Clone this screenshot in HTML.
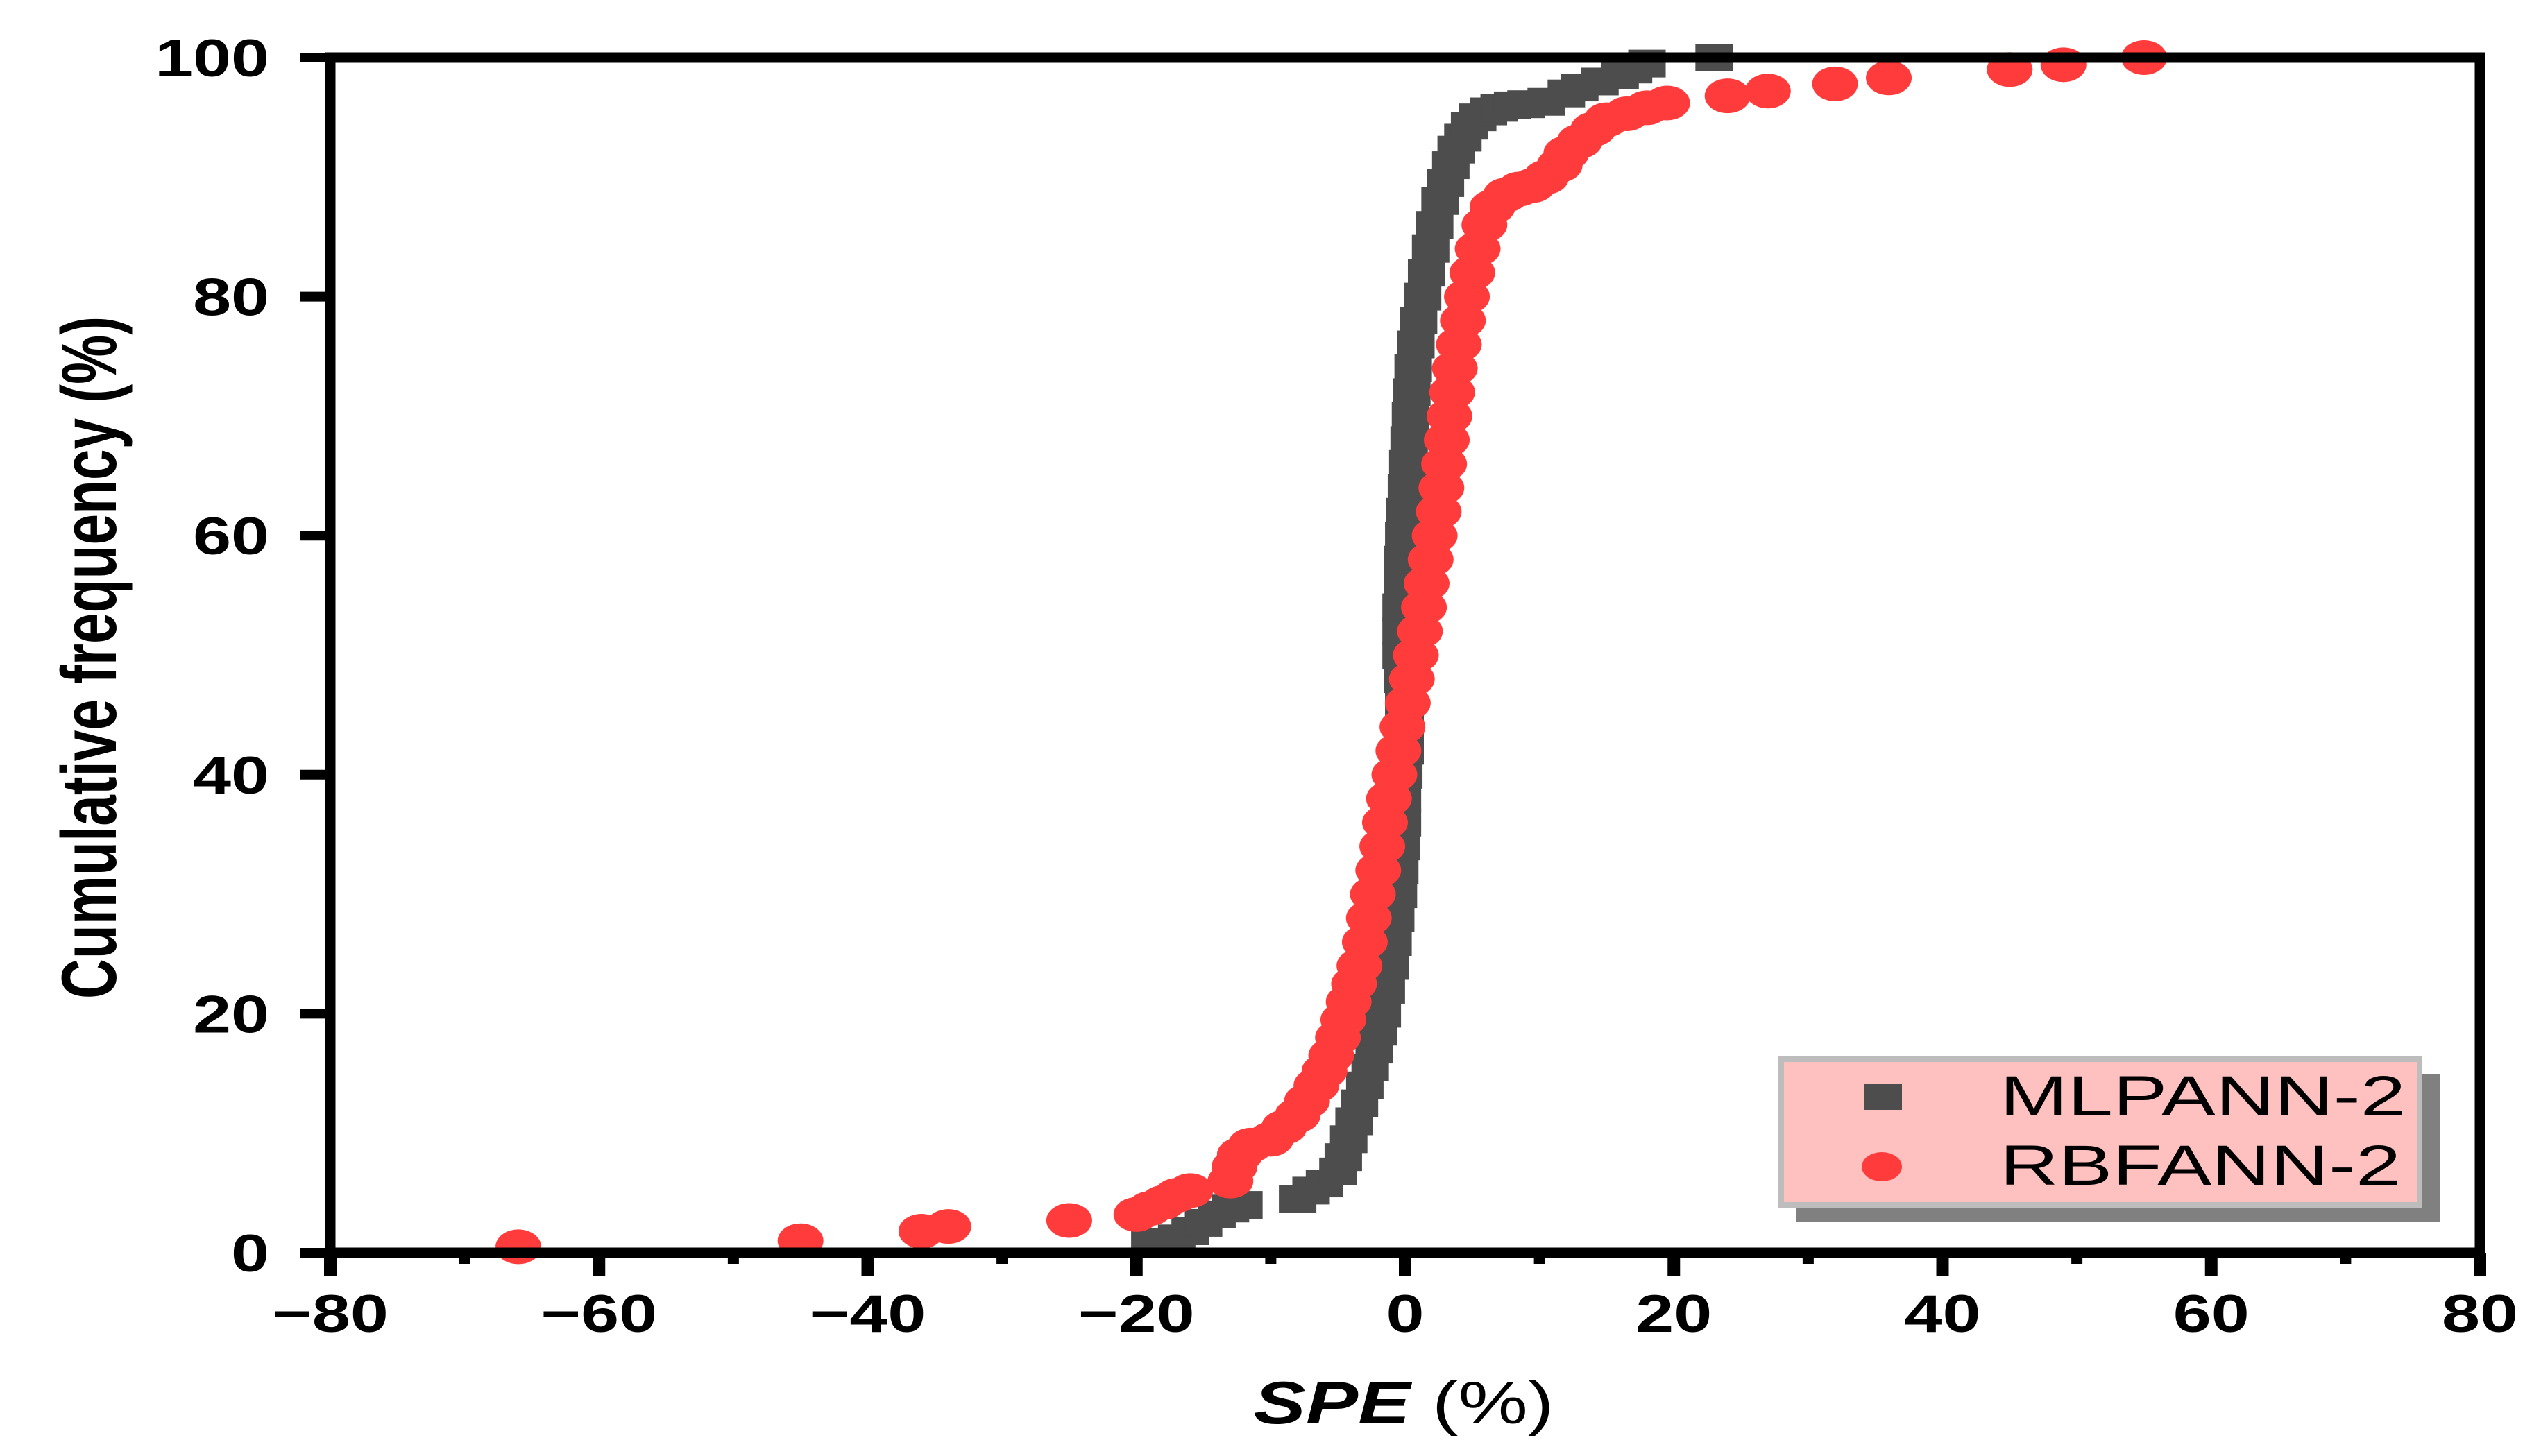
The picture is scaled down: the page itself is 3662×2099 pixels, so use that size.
<!DOCTYPE html>
<html><head><meta charset="utf-8"><style>
html,body{margin:0;padding:0;background:#fff;}
svg{display:block;}
</style></head><body>
<svg id="chart" xmlns="http://www.w3.org/2000/svg" width="3662" height="2099" viewBox="0 0 3662 2099">
<rect x="0" y="0" width="3662" height="2099" fill="#fff"/>
<g id="marks"></g>
<g id="axes"></g>
<text transform="translate(167,948) rotate(-90)" text-anchor="middle" font-family="'Liberation Sans', sans-serif" font-weight="bold" font-size="112" textLength="984" lengthAdjust="spacingAndGlyphs">Cumulative frequency (%)</text>
<text x="2023" y="2052" text-anchor="middle" font-family="'Liberation Sans', sans-serif" font-size="86" textLength="433" lengthAdjust="spacingAndGlyphs"><tspan font-weight="bold" font-style="italic">SPE</tspan> (%)</text>
<g>
  <rect x="2588" y="1548" width="928" height="214" fill="#808080"/>
  <rect x="2567" y="1527" width="920" height="210" fill="#ffc0c0" stroke="#bdbdbd" stroke-width="8"/>
  <rect x="2686" y="1563" width="55" height="37" fill="#4d4d4d"/>
  <text x="2882" y="1608" font-family="'Liberation Sans', sans-serif" font-size="82" textLength="585" lengthAdjust="spacingAndGlyphs">MLPANN-2</text>
  <ellipse cx="2712" cy="1682" rx="29" ry="21" fill="#ff3b3b"/>
  <text x="2882" y="1708" font-family="'Liberation Sans', sans-serif" font-size="82" textLength="578" lengthAdjust="spacingAndGlyphs">RBFANN-2</text>
</g>
</svg>
<script>
const xTicks = [-80,-60,-40,-20,0,20,40,60,80];
const xTickLabels = ["\u221280","\u221260","\u221240","\u221220","0","20","40","60","80"];
const xMinor = [-70,-50,-30,-10,10,30,50,70];
const yTicks = [0,20,40,60,80,100];
const yTickLabels = ["0","20","40","60","80","100"];
const mlpX = [-19,-18,-17,-16,-15,-14,-13,-12,-8,-7,-6,-5,-4.6,-4.2,-3.8,-3.4,-3,-2.6,-2.3,-2,-1.7,-1.4,-1.1,-0.9,-0.7,-0.5,-0.4,-0.3,-0.2,-0.2,-0.1,0,0,-0.1,-0.2,-0.3,-0.3,-0.3,-0.2,-0.2,-0.1,0,0.1,0.2,0.3,0.4,0.5,0.6,0.8,1.0,1.3,1.6,1.9,2.2,2.6,3.0,3.4,3.8,4.3,4.8,5.4,6.2,7,8,9,10.5,12,13,14.5,16,17,18,23];
const mlpY = [0.8,0.9,1.2,1.8,2.5,3.2,3.7,4,4.5,5.2,5.8,6.8,8,9.5,11,12.5,14,15.5,17,18.5,20,22,24,26,28,30,32,34,36,38,40,42,44,46,48,50,52,54,56,58,60,62,64,66,68,70,72,74,76,78,80,82,84,86,88,89.5,91,92.3,93.3,94.3,95,95.5,95.8,96,96.1,96.3,97,97.5,98,98.5,99,99.5,100];
const rbfX = [-66,-45,-36,-34,-25,-20,-19,-18,-17,-16,-13,-12.7,-12.3,-11.5,-10,-9,-8,-7.3,-6.6,-6,-5.5,-5,-4.6,-4.2,-3.8,-3.4,-3,-2.7,-2.4,-2,-1.7,-1.5,-1.2,-0.8,-0.5,-0.2,0.2,0.5,0.8,1.1,1.4,1.6,1.9,2.2,2.5,2.7,2.9,3.1,3.3,3.5,3.7,4,4.3,4.6,5,5.4,5.9,6.5,7.5,8.5,9.5,10.5,11.5,12,13,14,15,16.5,18,19.5,24,27,32,36,45,49,55];
const rbfY = [0.5,1,1.8,2.2,2.7,3.2,3.7,4.2,4.8,5.2,6,7.2,8.2,9,9.5,10.5,11.5,12.7,14,15.2,16.5,18,19.5,21,22.5,24,26,28,30,32,34,36,38,40,42,44,46,48,50,52,54,56,58,60,62,64,66,68,70,72,74,76,78,80,82,84,86,87.5,88.5,89,89.3,90,91,92,93,94,94.8,95.3,95.8,96.2,96.8,97.2,97.8,98.3,99,99.4,100];

const NS = "http://www.w3.org/2000/svg";
const X0 = 476, X1 = 3574, Y0 = 1806, Y1 = 83;
function sx(v){ return X0 + (v + 80) / 160 * (X1 - X0); }
function sy(v){ return Y0 - v / 100 * (Y0 - Y1); }
function mk(tag, attrs, parent){
  const e = document.createElementNS(NS, tag);
  for (const k in attrs) e.setAttribute(k, attrs[k]);
  parent.appendChild(e);
  return e;
}
const marks = document.getElementById('marks');
const axes = document.getElementById('axes');

for (let i = 0; i < mlpX.length; i++) {
  const r = mk('rect', {x: sx(mlpX[i]) - 27, y: sy(mlpY[i]) - 20, width: 54, height: 40, fill: '#4d4d4d'}, marks);
  
  
}
for (let i = 0; i < rbfX.length; i++) {
  const c = mk('ellipse', {cx: sx(rbfX[i]), cy: sy(rbfY[i]), rx: 33, ry: 25, fill: '#ff3b3b'}, marks);
  
  
}

const frame = mk('rect', {x: X0, y: Y1, width: X1 - X0, height: Y0 - Y1, fill: 'none', stroke: '#000', 'stroke-width': 15}, axes);



for (let i = 0; i < xTicks.length; i++) {
  const x = sx(xTicks[i]);
  const t = mk('line', {x1: x, y1: Y0, x2: x, y2: Y0 + 34, stroke: '#000', 'stroke-width': 18}, axes);
  
  
  const l = mk('text', {transform: 'translate(' + x + ',1920) scale(1.3,1)', 'text-anchor': 'middle', 'font-family': "'Liberation Sans', sans-serif", 'font-weight': 'bold', 'font-size': 76}, axes);
  l.textContent = xTickLabels[i];
  
  
}
for (let i = 0; i < xMinor.length; i++) {
  const x = sx(xMinor[i]);
  const t = mk('line', {x1: x, y1: Y0, x2: x, y2: Y0 + 16, stroke: '#000', 'stroke-width': 16}, axes);
  
  
}
for (let i = 0; i < yTicks.length; i++) {
  const y = sy(yTicks[i]);
  const t = mk('line', {x1: X0 - 44, y1: y, x2: X0, y2: y, stroke: '#000', 'stroke-width': 14}, axes);
  
  
  const l = mk('text', {transform: 'translate(388,' + (y + 27) + ') scale(1.3,1)', 'text-anchor': 'end', 'font-family': "'Liberation Sans', sans-serif", 'font-weight': 'bold', 'font-size': 76}, axes);
  l.textContent = yTickLabels[i];
  
  
}
</script>
</body></html>
